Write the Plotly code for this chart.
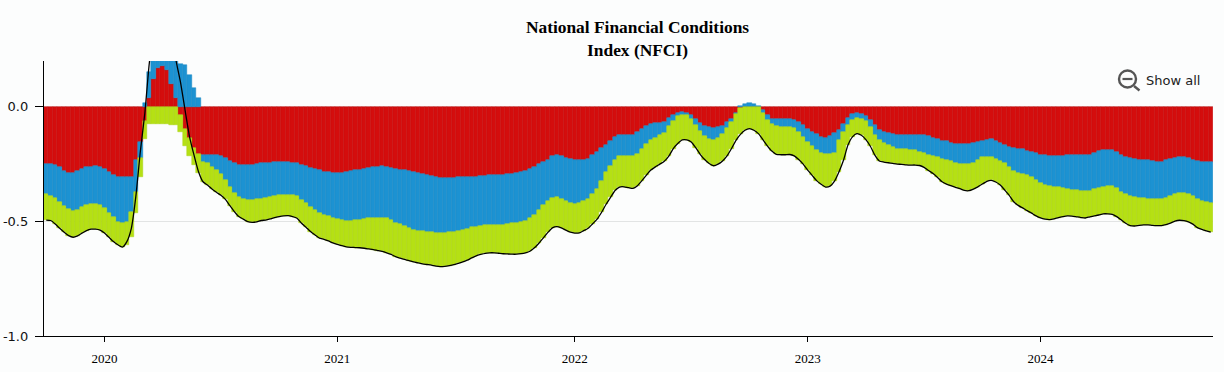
import pandas as pd
import plotly.graph_objects as go

weeks = pd.date_range("2019-10-04", periods=261, freq="7D").strftime("%Y-%m-%d").tolist()
year_ticks = ["2020-01-03", "2021-01-01", "2022-01-07", "2023-01-06", "2024-01-05"]
year_labels = ["2020", "2021", "2022", "2023", "2024"]

# Stack boundaries (index units)
red_level = [
-.25,-.25,-.254,-.264,-.279,-.288,-.288,-.282,-.272,-.264,-.262,-.259,-.262,-.272,-.286,-.298,-.305,-.308,-.308,-.308,
-.23,-.153,-.06,.04,.12,.17,.18,.16,.10,.04,-.037,-.095,-.138,-.18,-.204,-.211,-.211,-.211,-.211,-.214,
-.225,-.236,-.244,-.252,-.254,-.254,-.254,-.25,-.247,-.246,-.244,-.241,-.241,-.241,-.241,-.243,-.244,-.252,-.259,-.266,
-.272,-.277,-.283,-.285,-.287,-.288,-.287,-.285,-.281,-.276,-.274,-.272,-.269,-.264,-.262,-.26,-.262,-.265,-.27,-.274,
-.277,-.281,-.285,-.289,-.294,-.298,-.303,-.308,-.309,-.31,-.31,-.309,-.308,-.307,-.305,-.304,-.304,-.302,-.3,-.298,
-.297,-.297,-.296,-.295,-.293,-.29,-.285,-.28,-.27,-.262,-.25,-.24,-.23,-.214,-.212,-.214,-.222,-.228,-.234,-.234,
-.23,-.226,-.211,-.196,-.18,-.165,-.147,-.131,-.123,-.122,-.122,-.122,-.111,-.098,-.082,-.076,-.072,-.069,-.065,-.05,
-.036,-.027,-.022,-.026,-.036,-.053,-.07,-.083,-.089,-.091,-.088,-.082,-.067,-.051,-.025,-.005,0,0,0,0,
-.012,-.037,-.051,-.051,-.053,-.053,-.054,-.056,-.066,-.078,-.095,-.108,-.12,-.13,-.134,-.127,-.114,-.099,-.073,-.049,
-.033,-.027,-.031,-.041,-.059,-.08,-.099,-.109,-.115,-.12,-.121,-.122,-.122,-.121,-.121,-.122,-.124,-.128,-.134,-.14,
-.147,-.151,-.156,-.16,-.163,-.164,-.164,-.159,-.154,-.147,-.143,-.14,-.147,-.157,-.166,-.175,-.179,-.183,-.186,-.191,
-.195,-.202,-.209,-.212,-.214,-.215,-.215,-.214,-.212,-.212,-.212,-.212,-.211,-.208,-.201,-.193,-.189,-.189,-.189,-.198,
-.209,-.218,-.224,-.228,-.231,-.233,-.234,-.236,-.24,-.24,-.233,-.228,-.222,-.22,-.22,-.225,-.23,-.236,-.24,-.241,-.241]

blue_level = [
-.382,-.389,-.396,-.414,-.431,-.447,-.454,-.45,-.436,-.428,-.424,-.424,-.43,-.443,-.462,-.479,-.501,-.505,-.501,-.457,
-.37,-.225,.016,.154,.30,.42,.52,.52,.42,.30,.188,.184,.137,.083,.039,-.24,-.247,-.262,-.276,-.291,
-.32,-.349,-.375,-.392,-.404,-.407,-.407,-.404,-.402,-.399,-.392,-.388,-.385,-.383,-.383,-.385,-.389,-.407,-.421,-.436,
-.45,-.465,-.472,-.478,-.486,-.491,-.494,-.496,-.496,-.495,-.493,-.489,-.487,-.486,-.485,-.485,-.486,-.493,-.505,-.511,
-.52,-.528,-.536,-.54,-.543,-.545,-.547,-.549,-.549,-.549,-.548,-.546,-.542,-.537,-.531,-.526,-.523,-.519,-.516,-.515,
-.515,-.515,-.514,-.512,-.508,-.505,-.502,-.497,-.486,-.47,-.45,-.43,-.41,-.399,-.395,-.403,-.412,-.42,-.422,-.42,
-.412,-.404,-.38,-.36,-.325,-.285,-.26,-.232,-.214,-.214,-.214,-.214,-.204,-.182,-.16,-.146,-.134,-.124,-.114,-.085,
-.063,-.041,-.034,-.036,-.051,-.08,-.105,-.128,-.141,-.143,-.134,-.12,-.092,-.066,-.03,.004,.011,.018,.011,.005,
-.027,-.056,-.073,-.083,-.086,-.088,-.089,-.092,-.109,-.131,-.153,-.17,-.189,-.201,-.207,-.207,-.201,-.146,-.109,-.08,
-.056,-.05,-.054,-.063,-.088,-.121,-.146,-.156,-.165,-.175,-.182,-.185,-.186,-.188,-.19,-.195,-.201,-.208,-.215,-.22,
-.227,-.234,-.238,-.246,-.249,-.249,-.249,-.246,-.23,-.22,-.218,-.218,-.227,-.237,-.246,-.262,-.279,-.288,-.292,-.298,
-.308,-.32,-.334,-.34,-.346,-.349,-.351,-.354,-.359,-.362,-.363,-.366,-.368,-.366,-.36,-.353,-.349,-.347,-.346,-.354,
-.37,-.382,-.389,-.394,-.397,-.398,-.4,-.401,-.404,-.402,-.397,-.389,-.381,-.378,-.378,-.381,-.39,-.401,-.409,-.417,-.418]

green_level = [
-.494,-.496,-.511,-.53,-.547,-.562,-.569,-.563,-.551,-.54,-.534,-.534,-.538,-.551,-.569,-.588,-.602,-.612,-.602,-.566,
-.465,-.308,-.14,-.073,-.073,-.073,-.073,-.075,-.078,-.078,-.11,-.17,-.215,-.254,-.29,-.327,-.341,-.359,-.373,-.386,
-.404,-.431,-.457,-.479,-.49,-.501,-.504,-.502,-.496,-.494,-.489,-.483,-.479,-.476,-.475,-.479,-.486,-.508,-.525,-.544,
-.559,-.573,-.578,-.585,-.594,-.6,-.606,-.611,-.613,-.614,-.615,-.617,-.62,-.623,-.627,-.631,-.637,-.644,-.654,-.66,
-.666,-.671,-.677,-.681,-.685,-.688,-.691,-.695,-.697,-.696,-.693,-.689,-.683,-.677,-.669,-.659,-.65,-.644,-.639,-.637,
-.637,-.639,-.641,-.642,-.643,-.643,-.641,-.637,-.63,-.615,-.595,-.572,-.548,-.528,-.523,-.528,-.538,-.547,-.551,-.55,
-.54,-.53,-.51,-.49,-.46,-.425,-.395,-.365,-.35,-.349,-.353,-.356,-.344,-.322,-.298,-.276,-.262,-.25,-.237,-.215,
-.182,-.16,-.144,-.144,-.153,-.178,-.207,-.23,-.247,-.257,-.25,-.236,-.214,-.182,-.146,-.12,-.102,-.095,-.102,-.117,
-.143,-.17,-.193,-.207,-.209,-.209,-.208,-.214,-.23,-.25,-.276,-.299,-.322,-.338,-.35,-.346,-.324,-.283,-.233,-.167,
-.131,-.117,-.124,-.143,-.172,-.211,-.236,-.241,-.244,-.247,-.25,-.251,-.253,-.254,-.254,-.256,-.264,-.278,-.291,-.308,
-.327,-.337,-.344,-.351,-.357,-.365,-.366,-.359,-.349,-.337,-.325,-.321,-.328,-.341,-.363,-.386,-.414,-.43,-.441,-.453,
-.464,-.476,-.485,-.49,-.492,-.489,-.483,-.479,-.476,-.477,-.48,-.483,-.485,-.48,-.476,-.472,-.467,-.467,-.469,-.479,
-.493,-.508,-.518,-.52,-.517,-.515,-.515,-.517,-.518,-.518,-.514,-.507,-.499,-.495,-.497,-.502,-.512,-.527,-.535,-.541,-.547]

# Index during the spring 2020 spike, where it leaves the bottom of the stack
spike_start = 17
nfci_spike = [-.612,-.588,-.53,-.392,-.196,-.03,.188,.33,.43,.47,.45,.35,.2,.105,-.015,-.131,-.211,-.283]

assert len(weeks) == len(red_level) == len(blue_level) == len(green_level) == 261, (
    len(red_level), len(blue_level), len(green_level))

nfci = list(green_level)
nfci[spike_start:spike_start + len(nfci_spike)] = nfci_spike

red_vals, blue_vals, green_vals = [], [], []
for r, b, g in zip(red_level, blue_level, green_level):
    red_vals.append(r)
    blue_vals.append(b - r if b < r else b - max(r, 0))
    green_vals.append(g - min(r, b, 0))

W, H = 1224, 372
L, R, T, B = 44, 11, 61, 36
BG = "#fcfdfd"
series_style = [("Risk", red_vals, "#d40d0d", "#c20a0a"),
                ("Credit", blue_vals, "#1c92d2", "#1a86c2"),
                ("Leverage", green_vals, "#b5e014", "#a9d212")]

fig = go.Figure()
for name, vals, col, seam in series_style:
    fig.add_bar(x=weeks, y=vals, name=name, marker=dict(color=col, line=dict(width=0.5, color=seam)))
fig.add_scatter(x=weeks, y=nfci, mode="lines", name="NFCI",
                line=dict(color="#000", width=1.3, shape="spline", smoothing=0.6))

# "paper" coordinates span the plot area, so page pixels are mapped through the margins
px = lambda x: (x - L) / (W - L - R)
py = lambda y: 1 - (y - T) / (H - T - B)
icon = "#555"
shapes = [
    dict(type="circle", xref="paper", yref="paper", x0=px(1119), x1=px(1136), y0=py(70.5), y1=py(87.5),
         line=dict(color=icon, width=2.4)),
    dict(type="line", xref="paper", yref="paper", x0=px(1122.5), x1=px(1132.5), y0=py(79), y1=py(79),
         line=dict(color=icon, width=2.2)),
    dict(type="line", xref="paper", yref="paper", x0=px(1134), x1=px(1139.5), y0=py(86), y1=py(90.5),
         line=dict(color=icon, width=2.4)),
]

fig.update_layout(
    width=W, height=H, autosize=False, showlegend=False, barmode="relative", bargap=0,
    paper_bgcolor=BG, plot_bgcolor=BG,
    margin=dict(l=L, r=R, t=T, b=B, pad=0, autoexpand=False),
    title=dict(text="<b>National Financial Conditions<br>Index (NFCI)</b>", x=(637.5) / W, xanchor="center",
               y=1 - 33 / H, yanchor="top", automargin=False,
               font=dict(family="Liberation Serif", size=17.4, color="#000")),
    xaxis=dict(type="category", categoryorder="array", categoryarray=weeks, range=[-0.5, 260.5], automargin=False,
               tickmode="array", tickvals=year_ticks, ticktext=year_labels, ticks="outside", ticklen=5,
               tickwidth=1, tickcolor="#000", showline=True, linecolor="#000", linewidth=1.3,
               showgrid=False, zeroline=False, ticklabelstandoff=5,
               tickfont=dict(family="Liberation Serif", size=13, color="#000")),
    yaxis=dict(range=[-1.0, 0.2], tickmode="array", tickvals=[-1.0, -0.5, 0.0], automargin=False,
               ticktext=["-1.0", "-0.5", "0.0"], ticks="outside", ticklen=8, tickwidth=1, tickcolor="#000",
               showline=True, linecolor="#000", linewidth=1.3, gridcolor="#e2e4e4", gridwidth=1,
               zeroline=False, ticklabelstandoff=4,
               tickfont=dict(family="DejaVu Sans", size=13, color="#111")),
    shapes=shapes,
    annotations=[dict(text="Show all", xref="paper", yref="paper", x=px(1143.5), y=py(80), xanchor="left",
                      yanchor="middle", showarrow=False, font=dict(family="DejaVu Sans", size=13, color="#222"))],
)
fig.write_html("out.html", config={"displayModeBar": False},
               post_script="document.body.style.margin='0';document.documentElement.style.background='#fcfdfd';")
